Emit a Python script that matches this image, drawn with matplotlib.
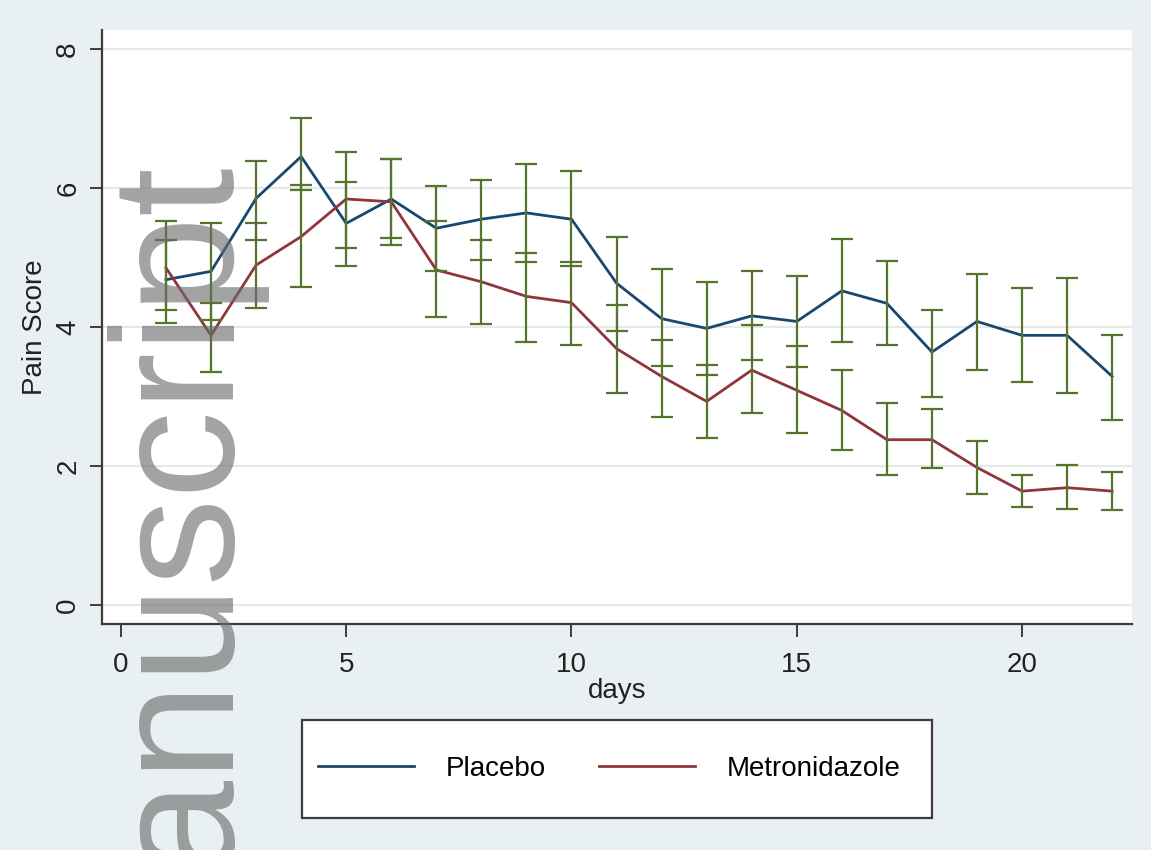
#Pain score by day - Placebo vs Metronidazole, mean with 95% CI
#Import packages
import numpy as np
import matplotlib
matplotlib.use('Agg')
import matplotlib.pyplot as plt
from matplotlib.patches import Rectangle

################ data ################
days = np.arange(1, 23)

placebo = [4.68, 4.80, 5.85, 6.45, 5.49, 5.84, 5.42, 5.55, 5.64, 5.55, 4.63,
           4.12, 3.98, 4.16, 4.08, 4.52, 4.34, 3.64, 4.08, 3.88, 3.88, 3.29]
placebo_lo = [4.06, 4.10, 5.25, 5.97, 4.88, 5.28, 4.80, 4.96, 4.94, 4.87, 3.94,
              3.44, 3.31, 3.53, 3.42, 3.79, 3.74, 3.00, 3.38, 3.21, 3.05, 2.66]
placebo_hi = [5.25, 5.49, 6.38, 7.00, 6.08, 6.41, 6.03, 6.12, 6.34, 6.24, 5.30,
              4.83, 4.65, 4.80, 4.74, 5.26, 4.95, 4.24, 4.76, 4.56, 4.71, 3.89]

metro = [4.85, 3.88, 4.89, 5.30, 5.84, 5.80, 4.82, 4.65, 4.44, 4.35, 3.69,
         3.29, 2.93, 3.38, 3.09, 2.80, 2.38, 2.38, 1.98, 1.64, 1.69, 1.64]
metro_lo = [4.24, 3.36, 4.27, 4.58, 5.13, 5.18, 4.15, 4.05, 3.79, 3.74, 3.05,
            2.71, 2.40, 2.77, 2.47, 2.23, 1.87, 1.97, 1.60, 1.41, 1.38, 1.37]
metro_hi = [5.52, 4.34, 5.49, 6.04, 6.51, 6.42, 5.52, 5.25, 5.06, 4.94, 4.32,
            3.82, 3.45, 4.03, 3.72, 3.38, 2.91, 2.82, 2.36, 1.87, 2.02, 1.92]

xticks = [0, 5, 10, 15, 20]
yticks = [0, 2, 4, 6, 8]
labels = ['Placebo', 'Metronidazole']
######################################

# stata s2color look
navy = '#1a476f'
maroon = '#90353b'
forest = '#55752f'
plt.rcParams['font.family'] = ['Liberation Sans', 'DejaVu Sans']

W, H = 1151, 850
fig = plt.figure(figsize=(W / 100, H / 100), dpi=100, facecolor='#e9f0f2')
ax = fig.add_axes([102 / W, 1 - 624 / H, (1132 - 102) / W, (624 - 30) / H])
ax.set_facecolor('white')

# grid
for g in yticks:
    ax.axhline(g, color='#e8e8e8', lw=1.6, zorder=0)

# lines
ax.plot(days, placebo, color=navy, lw=2.0, zorder=2, label=labels[0])
ax.plot(days, metro, color=maroon, lw=2.0, zorder=2, label=labels[1])

# confidence intervals
for m, lo, hi in [(placebo, placebo_lo, placebo_hi), (metro, metro_lo, metro_hi)]:
    m = np.array(m)
    yerr = [m - np.array(lo), np.array(hi) - m]
    ax.errorbar(days, m, yerr=yerr, fmt='none', ecolor=forest, elinewidth=1.6,
                capsize=8, capthick=1.6, zorder=3)

ax.set_xlim(-0.42, 22.44)
ax.set_ylim(-0.27, 8.27)
ax.set_xticks(xticks)
ax.set_yticks(yticks)
for s in ['top', 'right']:
    ax.spines[s].set_visible(False)
for s in ['left', 'bottom']:
    ax.spines[s].set_color('#3c3c3c')
    ax.spines[s].set_linewidth(1.6)
ax.tick_params(axis='both', direction='out', length=9, width=1.4, color='#3c3c3c',
               labelsize=20, labelcolor='#222222')
ax.tick_params(axis='x', pad=11)
ax.tick_params(axis='y', pad=6)
plt.setp(ax.get_yticklabels(), rotation=90, va='center')
ax.set_xlabel('days', fontsize=20, color='#222222', labelpad=0)
ax.set_ylabel('Pain Score', fontsize=20, color='#222222', labelpad=5)

# legend box
fig.patches.append(Rectangle((302 / W, 1 - 818 / H), 630 / W, 98 / H, transform=fig.transFigure,
                             facecolor='white', edgecolor='#3c3c3c', lw=1.6, zorder=1))
fig.legend(loc='center left', bbox_to_anchor=(318 / W, 1 - 769 / H), ncol=2, frameon=False,
           fontsize=20, handlelength=3.46, handletextpad=1.14, columnspacing=1.9,
           borderpad=0, borderaxespad=0)

# watermark
fig.text(222 / W, 1 - 155 / H, 'manuscript', rotation=90, rotation_mode='anchor',
         ha='right', va='baseline', fontsize=126, color='#6a6a6a', alpha=0.62, zorder=10)

plt.savefig('out.png', dpi=100, facecolor=fig.get_facecolor())
